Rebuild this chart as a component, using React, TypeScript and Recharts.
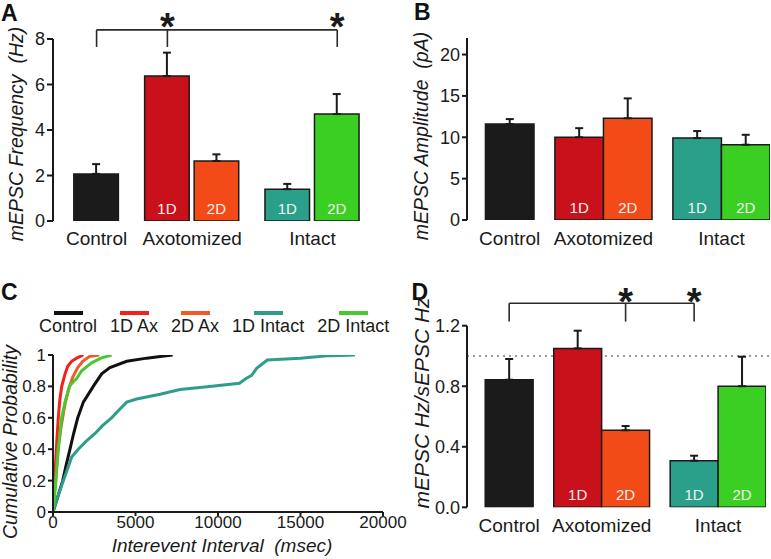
import React from "react";
import {
  BarChart,
  Bar,
  XAxis,
  YAxis,
  Cell,
  ErrorBar,
  LabelList,
  ReferenceLine,
  ReferenceDot,
  LineChart,
  Line,
} from "recharts";

const FONT = '"Liberation Sans", Arial, Helvetica, sans-serif';
const INK = "#1a1a1a";

// conditions, in the order the bars are drawn
const conditions = ["Control", "1D Ax", "2D Ax", "1D Intact", "2D Intact"];
const groups = ["Control", "Axotomized", "Intact"];
const groupOf = [0, 1, 1, 2, 2];
const barTags = ["", "1D", "2D", "1D", "2D"];
const barColors = ["#1b1b1b", "#c8111b", "#f34b17", "#2aa08b", "#3bcf23"];
const lineColors = ["#111111", "#f0221c", "#f15a26", "#2e9e8b", "#48c932"];

// A: mEPSC frequency (Hz)
const freqMean = [2.07, 6.37, 2.64, 1.4, 4.7];
const freqErr = [0.43, 1.03, 0.29, 0.23, 0.88];
const freqTicks = [0, 2, 4, 6, 8];
const freqBracket = [0, 1, 4];
const freqStars = [1, 4];

// B: mEPSC amplitude (pA)
const ampMean = [11.6, 10.0, 12.3, 9.9, 9.1];
const ampErr = [0.6, 1.1, 2.4, 0.85, 1.2];
const ampTicks = [0, 5, 10, 15, 20];

// D: mEPSC Hz / sEPSC Hz
const ratioMean = [0.843, 1.05, 0.509, 0.308, 0.8];
const ratioErr = [0.137, 0.117, 0.028, 0.033, 0.195];
const ratioTicks = [0, 0.4, 0.8, 1.2];
const ratioBracket = [0, 2, 3];
const ratioStars = [2, 3];

// C: cumulative interevent interval distributions [msec, probability]
const cdfControl: [number, number][] = [
  [0, 0], [300, 0.1], [590, 0.2], [800, 0.3], [1030, 0.4], [1250, 0.5], [1500, 0.6],
  [1840, 0.7], [2440, 0.8], [2950, 0.88], [3450, 0.92], [4470, 0.96], [5680, 0.98],
  [6500, 0.99], [7250, 1],
];
const cdf1DAx: [number, number][] = [
  [0, 0], [80, 0.15], [150, 0.3], [230, 0.45], [320, 0.6], [420, 0.72], [530, 0.8],
  [730, 0.88], [900, 0.93], [1130, 0.96], [1430, 0.98], [1840, 1],
];
const cdf2DAx: [number, number][] = [
  [0, 0], [150, 0.2], [300, 0.4], [500, 0.55], [750, 0.7], [1000, 0.8], [1200, 0.86],
  [1500, 0.92], [1800, 0.96], [2200, 0.99], [2800, 1],
];
const cdf1DIntact: [number, number][] = [
  [0, 0], [300, 0.1], [630, 0.2], [900, 0.28], [1130, 0.35], [1530, 0.4], [2000, 0.45],
  [2550, 0.5], [3000, 0.55], [3550, 0.6], [4000, 0.65], [4470, 0.7], [5070, 0.72],
  [6490, 0.75], [7700, 0.78], [9500, 0.8], [11300, 0.82], [11700, 0.85], [12040, 0.87],
  [12340, 0.915], [12990, 0.968], [15000, 0.98], [16800, 0.996], [18300, 1],
];
const cdf2DIntact: [number, number][] = [
  [0, 0], [180, 0.2], [320, 0.4], [520, 0.6], [730, 0.7], [990, 0.8], [1230, 0.83],
  [1430, 0.85], [1740, 0.9], [2340, 0.95], [2900, 0.98], [3550, 1],
];
const cdfSeries = [cdfControl, cdf1DAx, cdf2DAx, cdf1DIntact, cdf2DIntact];
const intervalTicks = [0, 5000, 10000, 15000, 20000];
const probTicks = [0, 0.2, 0.4, 0.6, 0.8, 1];

// bar slots on a numeric x axis: one unit per bar, a gap between groups
const GROUP_GAP = 0.43;
const X_DOMAIN: [number, number] = [-0.88, 5.36];
const slot = (i: number) => i + groupOf[i] * GROUP_GAP;
const groupCenters = groups.map((_, g) => {
  const idx = conditions.map((_, i) => i).filter((i) => groupOf[i] === g);
  return idx.reduce((s, i) => s + slot(i), 0) / idx.length;
});

const yTitle = (text: string, x: number, cy: number, size: number) => () => (
  <text
    x={x}
    y={cy}
    transform={`rotate(-90 ${x} ${cy})`}
    textAnchor="middle"
    fontSize={size}
    fontStyle="italic"
    fontFamily={FONT}
    fill={INK}
    style={{ whiteSpace: "pre" }}
  >
    {text}
  </text>
);

const starLabel = (props: any) => {
  const vb = props.viewBox || {};
  return (
    <text
      x={(vb.x || 0) + (vb.width || 0) / 2}
      y={(vb.y || 0) + (vb.height || 0) / 2}
      textAnchor="middle"
      fontSize={38}
      fontWeight="bold"
      fontFamily={FONT}
      fill={INK}
    >
      *
    </text>
  );
};

interface SigMarks {
  idx: number[];
  stars: number[];
  top: number;
  drop: number;
  starY: number;
}

interface BarPanelProps {
  left: number;
  top: number;
  width: number;
  height: number;
  margin: { top: number; right: number; bottom: number };
  yAxisWidth: number;
  xAxisHeight: number;
  means: number[];
  errs: number[];
  yDomain: [number, number];
  yTicks: number[];
  fmt: (v: number) => string;
  tickSize: number;
  catMargin: number;
  title: string;
  titleX: number;
  titleY: number;
  titleSize: number;
  sig?: SigMarks;
  unity?: boolean;
}

function BarPanel(p: BarPanelProps) {
  const data = conditions.map((c, i) => ({
    name: c,
    x: slot(i),
    v: p.means[i],
    e: [0, p.errs[i]],
    tag: barTags[i],
  }));
  const plotW = p.width - p.yAxisWidth - p.margin.right;
  const barSize = plotW / (X_DOMAIN[1] - X_DOMAIN[0]);
  const line = { stroke: "#2a2a2a", strokeWidth: 1.6 };
  return (
    <div style={{ position: "absolute", left: p.left, top: p.top }}>
      <BarChart
        width={p.width}
        height={p.height}
        data={data}
        margin={{ top: p.margin.top, right: p.margin.right, bottom: p.margin.bottom, left: 0 }}
      >
        {p.unity && (
          <ReferenceLine
            segment={[
              { x: X_DOMAIN[0], y: 1 },
              { x: X_DOMAIN[1] + 0.11, y: 1 },
            ]}
            stroke="#9a9a9a"
            strokeWidth={2}
            strokeDasharray="2 4"
            ifOverflow="visible"
            zIndex={-10}
          />
        )}
        <XAxis
          type="number"
          dataKey="x"
          domain={X_DOMAIN}
          ticks={groupCenters}
          interval={0}
          tickFormatter={(_v: number, i: number) => groups[i]}
          axisLine={false}
          tickLine={false}
          tickSize={0}
          tickMargin={p.catMargin}
          height={p.xAxisHeight}
          tick={{ fontSize: 19, fill: INK, fontFamily: FONT }}
          allowDataOverflow
        />
        <YAxis
          type="number"
          domain={p.yDomain}
          ticks={p.yTicks}
          interval={0}
          width={p.yAxisWidth}
          tickFormatter={p.fmt}
          axisLine={{ stroke: INK, strokeWidth: 2 }}
          tickLine={{ stroke: INK, strokeWidth: 2 }}
          tickSize={p.tickSize}
          tick={{ fontSize: 18, fill: INK, fontFamily: FONT }}
          label={yTitle(p.title, p.titleX, p.titleY, p.titleSize)}
          allowDataOverflow
        />
        <Bar dataKey="v" barSize={barSize} stroke={INK} strokeWidth={1.5} isAnimationActive={false}>
          {data.map((_, i) => (
            <Cell key={i} fill={barColors[i]} />
          ))}
          <ErrorBar
            dataKey="e"
            direction="y"
            width={4}
            stroke={INK}
            strokeWidth={2}
            isAnimationActive={false}
          />
          <LabelList
            dataKey="tag"
            position="insideBottom"
            offset={7}
            fill="#f4f0f0"
            fontSize={15}
            fontFamily={FONT}
          />
        </Bar>
        {p.sig && (
          <ReferenceLine
            segment={[
              { x: slot(p.sig.idx[0]), y: p.sig.top },
              { x: slot(p.sig.idx[p.sig.idx.length - 1]), y: p.sig.top },
            ]}
            {...line}
            ifOverflow="visible"
          />
        )}
        {p.sig &&
          p.sig.idx.map((i) => (
            <ReferenceLine
              key={"t" + i}
              segment={[
                { x: slot(i), y: p.sig!.top },
                { x: slot(i), y: p.sig!.drop },
              ]}
              {...line}
              ifOverflow="visible"
            />
          ))}
        {p.sig &&
          p.sig.stars.map((i) => (
            <ReferenceDot
              key={"s" + i}
              x={slot(i)}
              y={p.sig!.starY}
              r={0}
              fill="none"
              stroke="none"
              ifOverflow="visible"
              label={starLabel}
            />
          ))}
      </BarChart>
    </div>
  );
}

const panelLetter = (ch: string, left: number, top: number) => (
  <div
    style={{
      position: "absolute",
      left,
      top,
      fontFamily: FONT,
      fontWeight: "bold",
      fontSize: 23,
      lineHeight: "23px",
      color: "#111",
    }}
  >
    {ch}
  </div>
);

function CdfPanel() {
  return (
    <div style={{ position: "absolute", left: 0, top: 280 }}>
      <LineChart width={430} height={279} margin={{ top: 75, right: 47, bottom: 7, left: 0 }}>
        <XAxis
          type="number"
          dataKey="x"
          domain={[0, 20000]}
          ticks={intervalTicks}
          interval={0}
          height={40}
          tickSize={4}
          tickMargin={0}
          axisLine={{ stroke: INK, strokeWidth: 2 }}
          tickLine={{ stroke: INK, strokeWidth: 2 }}
          tick={{ fontSize: 17, fill: INK, fontFamily: FONT }}
          label={() => (
            <text
              x={222}
              y={272}
              textAnchor="middle"
              fontSize={19}
              fontStyle="italic"
              fontFamily={FONT}
              fill={INK}
              style={{ whiteSpace: "pre" }}
            >
              {"Interevent Interval  (msec)"}
            </text>
          )}
          allowDataOverflow
        />
        <YAxis
          type="number"
          domain={[0, 1]}
          ticks={probTicks}
          interval={0}
          width={53}
          tickSize={5}
          axisLine={{ stroke: INK, strokeWidth: 2 }}
          tickLine={{ stroke: INK, strokeWidth: 2 }}
          tick={{ fontSize: 17, fill: INK, fontFamily: FONT }}
          label={yTitle("Cumulative Probability", 16.5, 162, 19.5)}
          allowDataOverflow
        />
        {cdfSeries.map((s, i) => (
          <Line
            key={conditions[i]}
            data={s.map(([x, y]) => ({ x, y }))}
            dataKey="y"
            type="linear"
            stroke={lineColors[i]}
            strokeWidth={3}
            dot={false}
            isAnimationActive={false}
          />
        ))}
      </LineChart>
      <div
        style={{
          position: "absolute",
          left: 39,
          top: 31,
          display: "flex",
          gap: 13,
          fontFamily: FONT,
          fontSize: 18,
          color: INK,
        }}
      >
        {conditions.map((c, i) => (
          <div key={c} style={{ display: "flex", flexDirection: "column", alignItems: "center" }}>
            <div style={{ width: 29, height: 4, background: lineColors[i] }} />
            <div style={{ marginTop: 2, lineHeight: "18px", whiteSpace: "nowrap" }}>{c}</div>
          </div>
        ))}
      </div>
    </div>
  );
}

export default function App() {
  return (
    <div
      style={{
        position: "absolute",
        left: 0,
        top: 0,
        width: 771,
        height: 559,
        background: "#fff",
        overflow: "hidden",
      }}
    >
      <BarPanel
        left={0}
        top={0}
        width={390}
        height={280}
        margin={{ top: 39, right: 28, bottom: 19 }}
        yAxisWidth={53}
        xAxisHeight={40}
        means={freqMean}
        errs={freqErr}
        yDomain={[0, 8]}
        yTicks={freqTicks}
        fmt={(v) => String(v)}
        tickSize={6}
        catMargin={10.5}
        title="mEPSC Frequency  (Hz)"
        titleX={22.5}
        titleY={134}
        titleSize={19.5}
        sig={{ idx: freqBracket, stars: freqStars, top: 8.4, drop: 7.65, starY: 7.95 }}
      />
      <BarPanel
        left={390}
        top={0}
        width={381}
        height={280}
        margin={{ top: 38, right: 1, bottom: 20 }}
        yAxisWidth={77}
        xAxisHeight={40}
        means={ampMean}
        errs={ampErr}
        yDomain={[0, 22]}
        yTicks={ampTicks}
        fmt={(v) => String(v)}
        tickSize={5}
        catMargin={11.5}
        title="mEPSC Amplitude  (pA)"
        titleX={38}
        titleY={136}
        titleSize={19.5}
      />
      <CdfPanel />
      <BarPanel
        left={390}
        top={280}
        width={381}
        height={279}
        margin={{ top: 45.7, right: 5, bottom: 11.7 }}
        yAxisWidth={77}
        xAxisHeight={40}
        means={ratioMean}
        errs={ratioErr}
        yDomain={[0, 1.2]}
        yTicks={ratioTicks}
        fmt={(v) => v.toFixed(1)}
        tickSize={5}
        catMargin={11.2}
        title="mEPSC Hz/sEPSC Hz"
        titleX={39}
        titleY={123}
        titleSize={21}
        sig={{ idx: ratioBracket, stars: ratioStars, top: 1.348, drop: 1.227, starY: 1.268 }}
        unity
      />
      {panelLetter("A", 1, 1.5)}
      {panelLetter("B", 414, 1)}
      {panelLetter("C", 1, 280.5)}
      {panelLetter("D", 411.5, 280.5)}
    </div>
  );
}
